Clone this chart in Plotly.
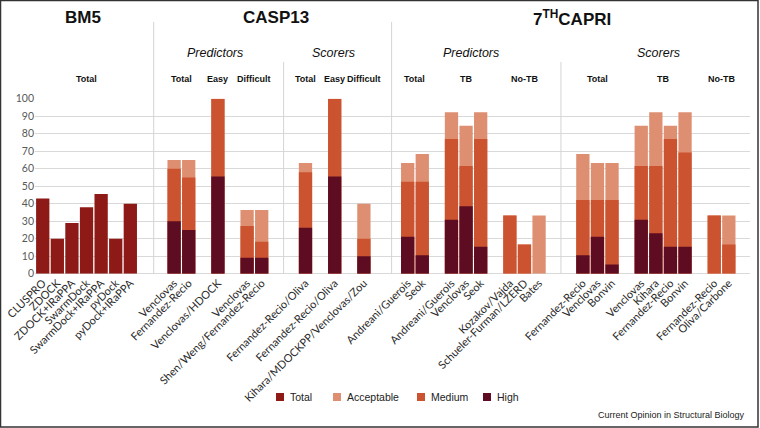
import plotly.graph_objects as go

W, H = 760, 428


def px(x):
    return x / W


def py(y):
    return 1 - y / H


# ---------------- data ----------------
bm5_labels = ["CLUSPRO", "ZDOCK", "ZDOCK+IRaPPA", "SwarmDock",
              "SwarmDock+IRaPPA", "pyDock", "pyDock+IRaPPA"]
bm5_total = [43.0, 20.0, 29.0, 38.0, 45.5, 20.0, 40.0]

stack_labels = [
    # CASP13 predictors
    "Venclovas", "Fernandez-Recio",
    "Venclovas/HDOCK",
    "Venclovas", "Shen/Weng/Fernandez-Recio",
    # CASP13 scorers
    "Fernandez-Recio/Oliva",
    "Fernandez-Recio/Oliva",
    "Kihara/MDOCKPP/Venclovas/Zou",
    # 7th CAPRI predictors
    "Andreani/Guerois", "Seok",
    "Andreani/Guerois", "Venclovas", "Seok",
    "Kozakov/Vajda", "Schueler-Furman/LZERD", "Bates",
    # 7th CAPRI scorers
    "Fernandez-Recio", "Venclovas", "Bonvin",
    "Venclovas", "Kihara", "Fernandez-Recio", "Bonvin",
    "Fernandez-Recio", "Oliva/Carbone",
]
# cumulative success rates (%)
acceptable = [65.0, 65.0, 100.0, 36.4, 36.4,
              63.2, 100.0, 40.0,
              63.2, 68.4, 92.3, 84.6, 92.3, 33.3, 16.7, 33.3,
              68.4, 63.2, 63.2, 84.6, 92.3, 84.6, 92.3, 33.3, 33.3]
medium = [60.0, 55.0, 100.0, 27.3, 18.2,
          57.9, 100.0, 20.0,
          52.6, 52.6, 76.9, 61.5, 76.9, 33.3, 16.7, 0.0,
          42.1, 42.1, 42.1, 61.5, 61.5, 76.9, 69.2, 33.3, 16.7]
high = [30.0, 25.0, 55.6, 9.1, 9.1,
        26.3, 55.6, 10.0,
        21.1, 10.5, 30.8, 38.5, 15.4, 0.0, 0.0, 0.0,
        10.5, 21.1, 5.3, 30.8, 23.1, 15.4, 15.4, 0.0, 0.0]

# sub-groups: (header, number of bars, empty slots before)
groups = [("Total", 7, 0),
          ("Total", 2, 2), ("Easy", 1, 1), ("Difficult", 2, 1),
          ("Total", 1, 2), ("Easy", 1, 1), ("Difficult", 1, 1),
          ("Total", 2, 2), ("TB", 3, 1), ("No-TB", 3, 1),
          ("Total", 3, 2), ("TB", 4, 1), ("No-TB", 2, 1)]

series_names = ["Total", "Acceptable", "Medium", "High"]
colors = {"Total": "#8E1A17", "Acceptable": "#DE8F71",
          "Medium": "#CC5330", "High": "#5E0C22"}

# ---------------- positions ----------------
positions = []
group_centers = []
k = 0
for name, n, gap in groups:
    k += gap
    xs = list(range(k, k + n))
    positions += xs
    group_centers.append((name, (xs[0] + xs[-1]) / 2))
    k += n
x_bm5 = positions[:len(bm5_labels)]
x_stack = positions[len(bm5_labels):]

BW = 0.91
fig = go.Figure()
fig.add_trace(go.Bar(x=x_bm5, y=bm5_total, width=BW, name="Total",
                     marker=dict(color=colors["Total"], line=dict(width=0)),
                     showlegend=False))
for nm, vals in [("Acceptable", acceptable), ("Medium", medium), ("High", high)]:
    fig.add_trace(go.Bar(x=x_stack, y=vals, width=BW, name=nm,
                         marker=dict(color=colors[nm], line=dict(width=0)),
                         showlegend=False))

TXT = "Liberation Sans, Arial, sans-serif"
fig.update_layout(
    width=W, height=H, barmode="overlay",
    margin=dict(l=0, r=0, t=0, b=0),
    paper_bgcolor="white", plot_bgcolor="white",
    xaxis=dict(domain=[px(35), px(750)], range=[-0.53, 48.45],
               tickvals=positions, ticktext=bm5_labels + stack_labels,
               tickangle=-45, showgrid=False, zeroline=False, showline=False,
               ticks="", automargin=False,
               tickfont=dict(family="Lato, sans-serif", size=11, color="#2A2A2A")),
    yaxis=dict(domain=[py(273.7), py(98.7)], range=[0, 100], dtick=10,
               showgrid=True, gridcolor="#D9D9D9", gridwidth=1,
               zeroline=True, zerolinecolor="#D9D9D9", zerolinewidth=1,
               showline=False, ticks="", automargin=False,
               tickfont=dict(family="Lato, sans-serif", size=10.5, color="#595959")),
)

shapes = []
# vertical separators
for xs, ytop in [(7.6, 22), (16.5, 62), (23.9, 22), (35.5, 62)]:
    shapes.append(dict(type="line", xref="x", yref="paper", x0=xs, x1=xs,
                       y0=py(274), y1=py(ytop),
                       line=dict(color="#D4D4D4", width=1)))
# frame
shapes.append(dict(type="rect", xref="paper", yref="paper",
                   x0=px(0.5), x1=px(758), y0=py(427), y1=py(0.5),
                   line=dict(color="#333333", width=1.5)))

ann = []
for text, xc in [("<b>BM5</b>", 83), ("<b>CASP13</b>", 276),
                 ("<b>7<sup>TH</sup>CAPRI</b>", 572)]:
    ann.append(dict(text=text, x=px(xc), y=py(18), xref="paper", yref="paper",
                    showarrow=False, xanchor="center", yanchor="middle",
                    font=dict(family=TXT, size=17, color="#111111")))
for text, xc in [("Predictors", 215), ("Scorers", 333),
                 ("Predictors", 471), ("Scorers", 658)]:
    ann.append(dict(text="<i>" + text + "</i>", x=px(xc), y=py(53),
                    xref="paper", yref="paper", showarrow=False,
                    xanchor="center", yanchor="middle",
                    font=dict(family=TXT, size=12.5, color="#111111")))
for name, xc in group_centers:
    ann.append(dict(text="<b>" + name + "</b>", x=xc, y=py(79),
                    xref="x", yref="paper", showarrow=False,
                    xanchor="center", yanchor="middle",
                    font=dict(family=TXT, size=9, color="#111111")))

# legend
leg_x = [276, 333, 417, 483]
for nm, lx in zip(series_names, leg_x):
    shapes.append(dict(type="rect", xref="paper", yref="paper",
                       x0=px(lx), x1=px(lx + 8), y0=py(401), y1=py(393),
                       fillcolor=colors[nm], line=dict(width=0)))
    ann.append(dict(text=nm, x=px(lx + 12), y=py(397), xref="paper",
                    yref="paper", showarrow=False, xanchor="left",
                    yanchor="middle",
                    font=dict(family=TXT, size=10.5, color="#222222")))

ann.append(dict(text="Current Opinion in Structural Biology", x=px(747),
                y=py(415), xref="paper", yref="paper", showarrow=False,
                xanchor="right", yanchor="middle",
                font=dict(family=TXT, size=9, color="#222222")))

fig.update_layout(shapes=shapes, annotations=ann)
fig.write_html("out.html",
               config={"displayModeBar": False},
               post_script="document.body.style.margin='0';"
                           "document.body.style.padding='0';")
